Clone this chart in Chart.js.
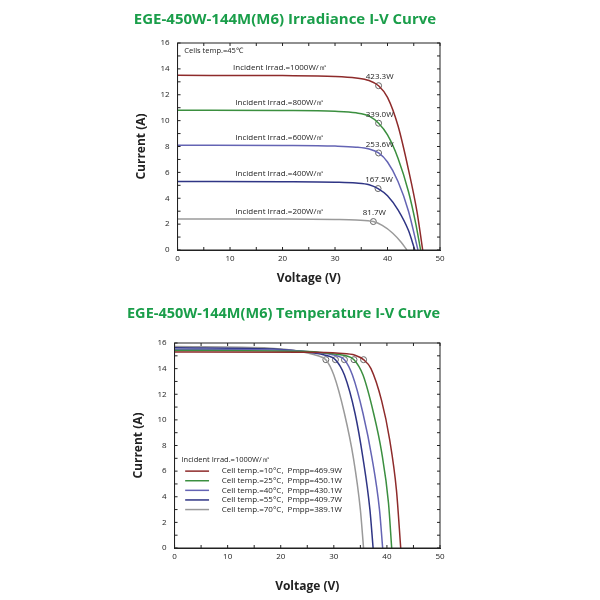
<!DOCTYPE html>
<html>
<head>
<meta charset="utf-8">
<script src="https://cdn.jsdelivr.net/npm/chart.js@4"></script>
<style>
  body { margin: 0; background: #fff; }
  .box { position: absolute; left: 0; width: 600px; }
</style>
</head>
<body>
<div class="box" style="top:0;height:295px"><canvas id="irr"></canvas></div>
<div class="box" style="top:295px;height:305px"><canvas id="temp"></canvas></div>
<script>
// Irradiance curves [voltage, current]
const irrLabels = ['Incident Irrad.=1000W/㎡', 'Incident Irrad.=800W/㎡', 'Incident Irrad.=600W/㎡', 'Incident Irrad.=400W/㎡', 'Incident Irrad.=200W/㎡'];
const irrColors = ['#8e2b2b', '#3b8f3f', '#6464b4', '#2f3585', '#9a9a9a'];
const irr1000 = [[0,13.5],[20,13.48],[30,13.42],[34,13.3],[36.5,13.1],[38.3,12.7],[40,11.8],[42,9.6],[44,6.2],[45.6,3],[46.7,0]];
const irr800 = [[0,10.8],[20,10.78],[30,10.72],[34,10.6],[36.5,10.35],[38.3,9.8],[40,8.9],[42,7.1],[44,4.5],[45.4,2],[46.3,0]];
const irr600 = [[0,8.1],[20,8.08],[30,8.03],[34,7.95],[36.5,7.8],[38.3,7.5],[40,6.8],[42,5.3],[44,3],[45.8,0]];
const irr400 = [[0,5.3],[20,5.28],[30,5.24],[34,5.18],[36.5,5.05],[38.2,4.75],[40,4.2],[42,3.1],[44,1.5],[45.2,0]];
const irr200 = [[0,2.4],[20,2.39],[30,2.36],[34,2.32],[37.3,2.2],[39,1.9],[41,1.3],[42.6,0.6],[43.7,0]];
const irrMpp = [[38.3,12.7],[38.3,9.8],[38.3,7.5],[38.2,4.75],[37.3,2.2]];
const irrPower = ['423.3W', '339.0W', '253.6W', '167.5W', '81.7W'];

// Temperature curves
const tempLabels = ['Cell temp.=10°C,  Pmpp=469.9W', 'Cell temp.=25°C,  Pmpp=450.1W', 'Cell temp.=40°C,  Pmpp=430.1W', 'Cell temp.=55°C,  Pmpp=409.7W', 'Cell temp.=70°C,  Pmpp=389.1W'];
const tempColors = ['#8e2b2b', '#3b8f3f', '#6464b4', '#2f3585', '#9a9a9a'];
const t10 = [[0,15.3],[25,15.28],[31,15.2],[34,15.05],[35.6,14.7],[37,14],[39,11.5],[40.5,8.5],[41.8,4.5],[42.6,0]];
const t25 = [[0,15.42],[24,15.35],[29,15.2],[32.3,15.0],[33.8,14.7],[35.5,13.5],[37.5,10.5],[39,7.5],[40.3,3.5],[40.9,0]];
const t40 = [[0,15.52],[22,15.42],[27,15.25],[30.5,15.0],[32,14.7],[33.5,13.5],[35.5,10.5],[37.2,7],[38.6,3],[39.2,0]];
const t55 = [[0,15.62],[20,15.5],[25,15.3],[28.8,15.0],[30.3,14.7],[32,13.5],[34,10.5],[35.5,7],[36.8,3],[37.4,0]];
const t70 = [[0,15.72],[18,15.6],[23,15.4],[27,15.0],[28.5,14.7],[30,13.5],[32,10.5],[33.7,7],[35,3],[35.6,0]];
const tempMpp = [[35.6,14.7],[33.8,14.7],[32,14.7],[30.3,14.7],[28.5,14.7]];

const xTicks = [0, 10, 20, 30, 40, 50];
const yTicks = [0, 2, 4, 6, 8, 10, 12, 14, 16];

const toPts = arr => arr.map(p => ({ x: p[0], y: p[1] }));

function lineSet(data, color) {
  return { data: toPts(data), borderColor: color, borderWidth: 1.5, showLine: true,
    pointRadius: 0, cubicInterpolationMode: 'monotone', fill: false };
}
function mppSet(data) {
  return { data: toPts(data), showLine: false, pointRadius: 3, pointBackgroundColor: '#fff',
    pointBorderColor: '#666', pointBorderWidth: 1 };
}

function scales() {
  const tickFont = { family: 'Open Sans', size: 8 };
  const titleFont = { family: 'Open Sans', size: 12, weight: 'bold' };
  return {
    x: { type: 'linear', min: 0, max: 50, afterBuildTicks: a => { a.ticks = xTicks.map(v => ({ value: v })); },
      grid: { display: false, drawTicks: false }, border: { color: '#222', width: 1 },
      ticks: { color: '#222', font: tickFont, padding: 4 },
      title: { display: true, text: 'Voltage (V)', color: '#222', font: titleFont } },
    y: { type: 'linear', min: 0, max: 16, afterBuildTicks: a => { a.ticks = yTicks.map(v => ({ value: v })); },
      grid: { display: false, drawTicks: false }, border: { color: '#222', width: 1 },
      ticks: { color: '#222', font: tickFont, padding: 8 },
      title: { display: true, text: 'Current (A)', color: '#222', font: titleFont } }
  };
}

// plot frame with small inward ticks
const frame = {
  id: 'frame',
  afterDatasetsDraw(chart) {
    const { ctx, chartArea: a, scales: s } = chart;
    ctx.save();
    ctx.strokeStyle = '#222';
    ctx.lineWidth = 1;
    ctx.strokeRect(a.left, a.top, a.right - a.left, a.bottom - a.top);
    ctx.beginPath();
    for (let v = 0; v <= 50; v += 5) {
      const x = s.x.getPixelForValue(v);
      ctx.moveTo(x, a.bottom); ctx.lineTo(x, a.bottom - 3);
      ctx.moveTo(x, a.top); ctx.lineTo(x, a.top + 3);
    }
    for (let v = 0; v <= 16; v += 1) {
      const y = s.y.getPixelForValue(v);
      ctx.moveTo(a.left, y); ctx.lineTo(a.left + 3, y);
      ctx.moveTo(a.right, y); ctx.lineTo(a.right - 3, y);
    }
    ctx.stroke();
    ctx.restore();
  }
};

const irrText = {
  id: 'irrText',
  afterDatasetsDraw(chart) {
    const { ctx, scales: s } = chart;
    ctx.save();
    ctx.fillStyle = '#222';
    ctx.font = '7.5px "Open Sans"';
    ctx.textBaseline = 'alphabetic';
    ctx.fillText('Cells temp.=45℃', s.x.getPixelForValue(1.3), s.y.getPixelForValue(15.2));
    const curveTop = [irr1000[0][1], irr800[0][1], irr600[0][1], irr400[0][1], irr200[0][1]];
    ctx.font = '8px "Open Sans"';
    irrLabels.forEach((t, i) => {
      ctx.textAlign = 'center';
      ctx.fillText(t, s.x.getPixelForValue(19.5), s.y.getPixelForValue(curveTop[i] + 0.4));
      ctx.fillText(irrPower[i], s.x.getPixelForValue(irrMpp[i][0] + 0.2), s.y.getPixelForValue(irrMpp[i][1] + 0.5));
    });
    ctx.restore();
  }
};

const tempLegend = {
  id: 'tempLegend',
  afterDatasetsDraw(chart) {
    const { ctx, scales: s } = chart;
    ctx.save();
    ctx.fillStyle = '#222';
    ctx.font = '7.5px "Open Sans"';
    ctx.textBaseline = 'middle';
    ctx.fillText('Incident Irrad.=1000W/㎡', s.x.getPixelForValue(1.3), s.y.getPixelForValue(6.9));
    ctx.font = '8px "Open Sans"';
    tempLabels.forEach((t, i) => {
      const y = s.y.getPixelForValue(6 - i * 0.75);
      ctx.strokeStyle = tempColors[i];
      ctx.lineWidth = 1.5;
      ctx.beginPath();
      ctx.moveTo(s.x.getPixelForValue(2), y);
      ctx.lineTo(s.x.getPixelForValue(6.5), y);
      ctx.stroke();
      ctx.fillText(t, s.x.getPixelForValue(8.9), y);
    });
    ctx.restore();
  }
};

function titleOpts(text, top, bottom) {
  return { display: true, text: text, color: '#1a9e4a', font: { family: 'Open Sans', size: 15, weight: 'bold' },
    padding: { top: top, bottom: bottom } };
}

new Chart(document.getElementById('irr'), {
  type: 'scatter',
  data: { datasets: [irr1000, irr800, irr600, irr400, irr200].map((d, i) => lineSet(d, irrColors[i])).concat([mppSet(irrMpp)]) },
  options: {
    responsive: true, maintainAspectRatio: false, animation: false,
    layout: { padding: { left: 130, right: 160, bottom: 5 } },
    plugins: { legend: { display: false }, tooltip: { enabled: false }, title: titleOpts('EGE-450W-144M(M6) Irradiance I-V Curve', 11, 14) },
    scales: scales()
  },
  plugins: [frame, irrText]
});

const tempScales = scales();
tempScales.x.title.padding = { top: 14 };
new Chart(document.getElementById('temp'), {
  type: 'scatter',
  data: { datasets: [t10, t25, t40, t55, t70].map((d, i) => lineSet(d, tempColors[i])).concat([mppSet(tempMpp)]) },
  options: {
    responsive: true, maintainAspectRatio: false, animation: false,
    layout: { padding: { left: 127, right: 160, bottom: 2 } },
    plugins: { legend: { display: false }, tooltip: { enabled: false }, title: titleOpts('EGE-450W-144M(M6) Temperature I-V Curve', 10, 20) },
    scales: tempScales
  },
  plugins: [frame, tempLegend]
});
</script>
</body>
</html>
